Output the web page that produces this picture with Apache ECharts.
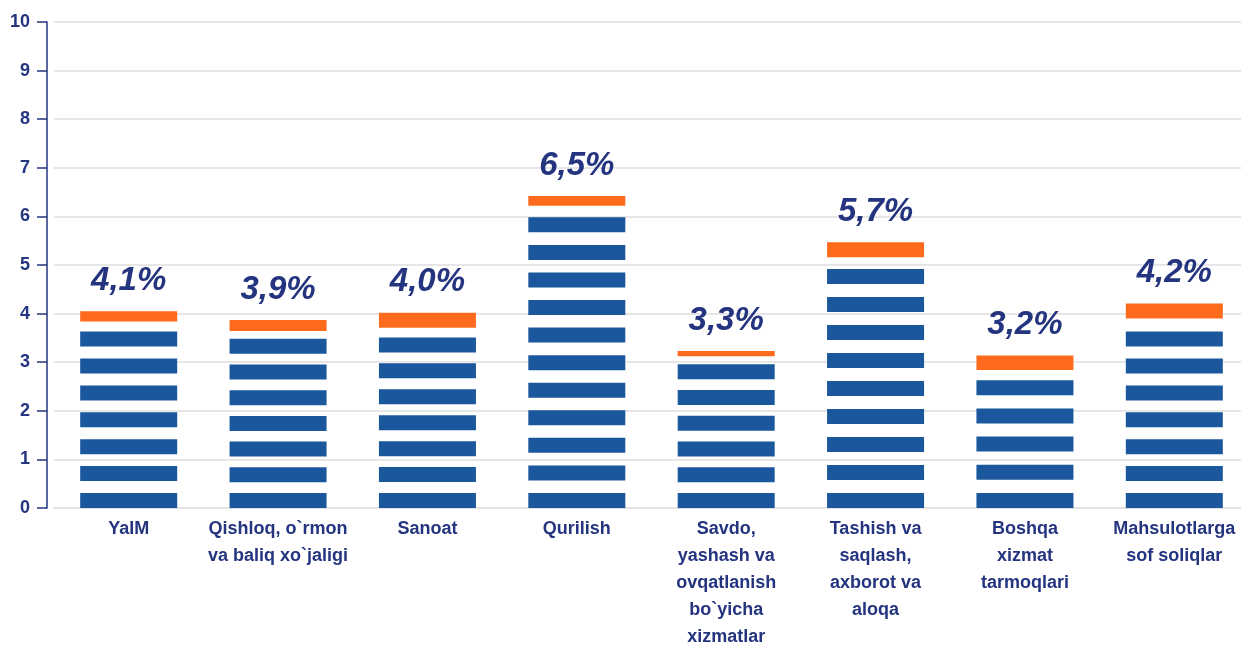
<!DOCTYPE html>
<html>
<head>
<meta charset="utf-8">
<script src="https://cdn.jsdelivr.net/npm/echarts@6/dist/echarts.min.js"></script>
<style>
  html, body { margin: 0; padding: 0; background: #fff; overflow: hidden; }
  #main { width: 1249px; height: 651px; }
</style>
</head>
<body>
<div id="main"></div>
<script>
// categories (x axis)
var categories = [
  'YaIM',
  'Qishloq, o`rmon\nva baliq xo`jaligi',
  'Sanoat',
  'Qurilish',
  'Savdo,\nyashash va\novqatlanish\nbo`yicha\nxizmatlar',
  'Tashish va\nsaqlash,\naxborot va\naloqa',
  'Boshqa\nxizmat\ntarmoqlari',
  'Mahsulotlarga\nsof soliqlar'
]
// growth labels shown above bars
var growthLabels = ['4,1%', '3,9%', '4,0%', '6,5%', '3,3%', '5,7%', '3,2%', '4,2%']
// top of the striped blue part
var blueTop = [3.63, 3.48, 3.51, 5.98, 2.96, 4.92, 2.63, 3.63]
// orange cap: bottom and top
var orangeBottom = [3.84, 3.64, 3.71, 6.22, 3.12, 5.16, 2.84, 3.90]
var orangeTop = [4.05, 3.87, 4.02, 6.42, 3.23, 5.47, 3.14, 4.21]

var navy = '#24347f'
var font = '"Liberation Sans", Arial, sans-serif'
var chart = echarts.init(document.getElementById('main'))

var capHeight = orangeTop.map(function (v, i) {
  return +(v - orangeBottom[i]).toFixed(2)
})
// stripes fill exactly up to the blue top
var stripeData = blueTop.map(function (v) {
  return { value: v, symbolBoundingData: v }
})

chart.setOption({
  animation: false,
  grid: { left: 54, right: 0, top: 22, bottom: 130 },
  xAxis: {
    type: 'category',
    data: categories,
    axisLine: { lineStyle: { color: '#e3e3e3', width: 2 } },
    axisTick: { show: false },
    axisLabel: {
      interval: 0,
      margin: 8,
      color: navy,
      fontFamily: font,
      fontWeight: 'bold',
      fontSize: 18,
      lineHeight: 27
    }
  },
  yAxis: {
    type: 'value',
    min: 0,
    max: 10,
    interval: 1,
    offset: 7,
    axisLine: { show: true, lineStyle: { color: navy, width: 1.5 } },
    axisTick: { show: true, length: 10, lineStyle: { color: navy, width: 1.5 } },
    axisLabel: {
      margin: 17,
      color: navy,
      fontFamily: font,
      fontWeight: 'bold',
      fontSize: 18
    },
    splitLine: { lineStyle: { color: '#e6e6e6', width: 2 } }
  },
  series: [
    {
      name: 'stripes',
      type: 'pictorialBar',
      barWidth: 97,
      symbol: 'rect',
      symbolRepeat: true,
      symbolSize: [97, 15],
      symbolMargin: 7,
      itemStyle: { color: '#1a579d' },
      data: stripeData
    },
    {
      name: 'base',
      type: 'bar',
      stack: 'cap',
      barWidth: 97,
      itemStyle: { color: 'transparent' },
      data: orangeBottom
    },
    {
      name: 'cap',
      type: 'bar',
      stack: 'cap',
      barWidth: 97,
      itemStyle: { color: '#fe6b1c' },
      label: {
        show: true,
        position: 'top',
        distance: 14,
        color: navy,
        fontFamily: font,
        fontWeight: 'bold',
        fontStyle: 'italic',
        fontSize: 33,
        formatter: function (p) { return growthLabels[p.dataIndex] }
      },
      data: capHeight
    }
  ]
})
</script>
</body>
</html>
